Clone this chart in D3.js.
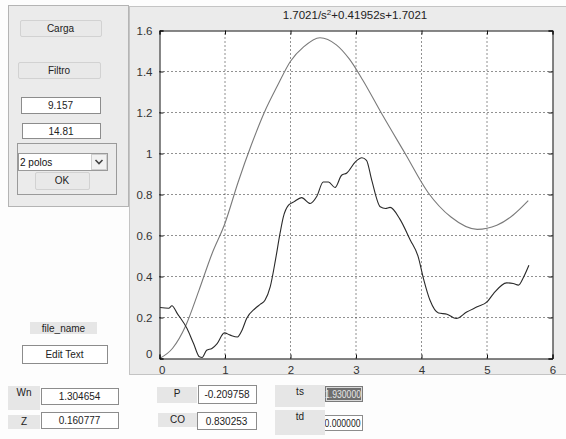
<!DOCTYPE html>
<html>
<head>
<meta charset="utf-8">
<script src="https://cdn.jsdelivr.net/npm/d3@7"></script>
<style>
  body { margin: 0; background: #fdfdfd; }
  svg text { font-family: "Liberation Sans", Arial, sans-serif; }
</style>
</head>
<body>
<div id="chart"></div>
<script>
// step response of the model (gray)
const modelT = [0, 0.2, 0.4, 0.6, 0.8, 1.0, 1.2, 1.4, 1.6, 1.8, 2.0, 2.2, 2.45, 2.7, 2.9, 3.1, 3.4, 3.75, 4.1, 4.45, 4.85, 5.15, 5.4, 5.63];
const modelY = [0, 0.05, 0.16, 0.33, 0.51, 0.66, 0.86, 1.04, 1.2, 1.33, 1.45, 1.52, 1.565, 1.53, 1.46, 1.36, 1.19, 1.0, 0.81, 0.69, 0.63, 0.65, 0.70, 0.77];

// measured (filtered) signal (black)
const dataT = [0.01, 0.14, 0.19, 0.27, 0.42, 0.52, 0.61, 0.65, 0.72, 0.8, 0.88, 0.99, 1.08, 1.19, 1.26, 1.33, 1.46, 1.54, 1.61, 1.69, 1.77, 1.84, 1.89, 1.97, 2.05, 2.17, 2.3, 2.4, 2.5, 2.58, 2.68, 2.78, 2.86, 2.99, 3.09, 3.16, 3.24, 3.37, 3.45, 3.52, 3.67, 3.83, 3.95, 4.03, 4.13, 4.26, 4.39, 4.53, 4.69, 4.85, 5.0, 5.1, 5.3, 5.4, 5.48, 5.56, 5.64];
const dataY = [0.249, 0.245, 0.257, 0.22, 0.146, 0.073, 0.008, 0.005, 0.04, 0.049, 0.073, 0.125, 0.114, 0.105, 0.138, 0.195, 0.244, 0.265, 0.284, 0.349, 0.48, 0.61, 0.69, 0.748, 0.764, 0.785, 0.756, 0.79, 0.861, 0.861, 0.834, 0.894, 0.905, 0.959, 0.979, 0.967, 0.87, 0.74, 0.732, 0.737, 0.68, 0.577, 0.496, 0.39, 0.284, 0.222, 0.216, 0.195, 0.227, 0.252, 0.276, 0.317, 0.369, 0.366, 0.358, 0.398, 0.455];

const xTicks = [0, 1, 2, 3, 4, 5, 6];
const yTicks = [0, 0.2, 0.4, 0.6, 0.8, 1, 1.2, 1.4, 1.6];

const W = 566, H = 439;
const svg = d3.select("#chart").append("svg")
    .attr("width", W).attr("height", H);

// background panels
svg.append("rect").attr("x", 129.5).attr("y", 6.5).attr("width", 440).attr("height", 368)
    .attr("fill", "#ebebeb").attr("stroke", "#c4c4c4");
svg.append("rect").attr("x", 8.5).attr("y", 5.5).attr("width", 120).attr("height", 201)
    .attr("fill", "#ebebeb").attr("stroke", "#b4b4b4");
svg.append("rect").attr("x", 17.5).attr("y", 143.5).attr("width", 99).attr("height", 51)
    .attr("fill", "none").attr("stroke", "#9a9a9a");

// axes
const x = d3.scaleLinear().domain([0, 6]).range([159.5, 552.5]);
const y = d3.scaleLinear().domain([0, 1.6]).range([358.5, 30.5]);

const plot = svg.append("g");
plot.append("rect").attr("x", x(0)).attr("y", y(1.6))
    .attr("width", x(6) - x(0)).attr("height", y(0) - y(1.6)).attr("fill", "#fff");

// grid
plot.selectAll(".gx").data(xTicks.slice(1, -1)).enter().append("line")
    .attr("x1", d => x(d)).attr("x2", d => x(d)).attr("y1", y(0)).attr("y2", y(1.6))
    .attr("stroke", "#222").attr("stroke-dasharray", "1,3");
plot.selectAll(".gy").data(yTicks.slice(1, -1)).enter().append("line")
    .attr("x1", x(0)).attr("x2", x(6)).attr("y1", d => y(d)).attr("y2", d => y(d))
    .attr("stroke", "#222").attr("stroke-dasharray", "1,3");

// curves
const line = d3.line().x(d => x(d[0])).y(d => y(d[1])).curve(d3.curveMonotoneX);
plot.append("path").datum(d3.zip(modelT, modelY)).attr("d", line)
    .attr("fill", "none").attr("stroke", "#7a7a7a").attr("stroke-width", 1.1);
plot.append("path").datum(d3.zip(dataT, dataY)).attr("d", line)
    .attr("fill", "none").attr("stroke", "#2a2a2a").attr("stroke-width", 1.1);

// axis lines & ticks (inward, MATLAB style)
const xAxis = d3.axisBottom(x).tickValues(xTicks).tickSize(-4).tickPadding(7)
    .tickFormat(d3.format("d"));
const yAxis = d3.axisLeft(y).tickValues(yTicks).tickSize(-4).tickPadding(7)
    .tickFormat(d => d === 0 ? "0" : d3.format("~g")(d));
const gx = plot.append("g").attr("transform", `translate(0,${y(0)})`).call(xAxis);
const gy = plot.append("g").attr("transform", `translate(${x(0)},0)`).call(yAxis);
const gy2 = plot.append("g").attr("transform", `translate(${x(6)},0)`)
    .call(d3.axisRight(y).tickValues(yTicks).tickSize(-4).tickFormat(""));
const gx2 = plot.append("g").attr("transform", `translate(0,${y(1.6)})`)
    .call(d3.axisTop(x).tickValues(xTicks).tickSize(-4).tickFormat(""));
[gx, gy, gx2, gy2].forEach(g => {
  g.select(".domain").attr("stroke", "#111");
  g.selectAll(".tick line").attr("stroke", "#111");
  g.selectAll("text").attr("font-size", 11.5).attr("fill", "#333")
      .attr("font-family", "'Liberation Sans', Arial, sans-serif");
});
gy.selectAll(".tick").filter(d => d === 0).select("text").attr("dy", "-0.1em");
gx.selectAll(".tick").filter(d => d === 0).select("text").attr("dx", "0.2em");

// title
const title = svg.append("text").attr("x", 355).attr("y", 19)
    .attr("text-anchor", "middle").attr("font-size", 11.5).attr("fill", "#222");
title.append("tspan").text("1.7021/s");
title.append("tspan").attr("dy", -4).attr("font-size", 8).text("2");
title.append("tspan").attr("dy", 4).text("+0.41952s+1.7021");

// GUI controls
const buttons = [
  {label: "Carga", x: 20, y: 20, w: 81, h: 16},
  {label: "Filtro", x: 18, y: 62, w: 82, h: 16},
  {label: "OK", x: 35, y: 172, w: 54, h: 17}
];
const edits = [
  {label: "9.157", x: 21, y: 97, w: 79, h: 16, anchor: "middle"},
  {label: "14.81", x: 22, y: 123, w: 78, h: 15, anchor: "middle"},
  {label: "Edit Text", x: 22, y: 345, w: 85, h: 18, anchor: "middle"},
  {label: "1.304654", x: 41, y: 388, w: 77, h: 16, anchor: "middle"},
  {label: "0.160777", x: 41, y: 412, w: 77, h: 16, anchor: "middle"},
  {label: "-0.209758", x: 198, y: 385, w: 58, h: 18, anchor: "middle"},
  {label: "0.830253", x: 197, y: 412, w: 59, h: 17, anchor: "middle"},
  {label: "0.000000", x: 323, y: 415, w: 39, h: 15, anchor: "start", fit: 36}
];
const labels = [
  {label: "file_name", x: 30, y: 322, w: 67, h: 12},
  {label: "Wn", x: 8, y: 386, w: 32, h: 24},
  {label: "Z", x: 8, y: 415, w: 32, h: 14},
  {label: "P", x: 157, y: 387, w: 40, h: 16},
  {label: "CO", x: 158, y: 413, w: 39, h: 14},
  {label: "ts", x: 275, y: 385, w: 50, h: 22},
  {label: "td", x: 275, y: 410, w: 50, h: 25}
];

const ui = svg.append("g").attr("font-size", 10);

buttons.forEach(b => {
  ui.append("rect").attr("x", b.x + 0.5).attr("y", b.y + 0.5).attr("width", b.w).attr("height", b.h)
      .attr("rx", 1.5).attr("fill", "#e9e9e9").attr("stroke", "#d2d2d2");
  ui.append("text").attr("x", b.x + b.w / 2).attr("y", b.y + b.h / 2 + 3.5)
      .attr("text-anchor", "middle").attr("font-size", 10).attr("fill", "#222").text(b.label);
});

edits.forEach(e => {
  ui.append("rect").attr("x", e.x + 0.5).attr("y", e.y + 0.5).attr("width", e.w).attr("height", e.h)
      .attr("fill", "#fff").attr("stroke", "#8c8c8c");
  const t = ui.append("text").attr("x", e.anchor === "start" ? e.x + 1.5 : e.x + e.w / 2)
      .attr("y", e.y + e.h / 2 + 4).attr("text-anchor", e.anchor)
      .attr("font-size", 10).attr("fill", "#222").text(e.label);
  if (e.fit) t.attr("textLength", e.fit).attr("lengthAdjust", "spacingAndGlyphs");
});

labels.forEach(l => {
  ui.append("rect").attr("x", l.x).attr("y", l.y).attr("width", l.w).attr("height", l.h)
      .attr("fill", "#e6e6e6");
  ui.append("text").attr("x", l.x + l.w / 2).attr("y", l.y + 10)
      .attr("text-anchor", "middle").attr("font-size", 10).attr("fill", "#222").text(l.label);
});

// selected ts field
ui.append("rect").attr("x", 325.5).attr("y", 386.5).attr("width", 37).attr("height", 15)
    .attr("fill", "#d8d8d8").attr("stroke", "#7a7a7a");
ui.append("rect").attr("x", 327).attr("y", 388).attr("width", 34).attr("height", 12)
    .attr("fill", "#6e6e6e");
ui.append("text").attr("x", 325).attr("y", 398)
    .attr("textLength", 36).attr("lengthAdjust", "spacingAndGlyphs")
    .attr("font-size", 10).attr("fill", "#e8e8e8").text("1.930000");

// dropdown
ui.append("rect").attr("x", 18.5).attr("y", 153.5).attr("width", 89).attr("height", 17)
    .attr("fill", "#fff").attr("stroke", "#9a9a9a");
ui.append("rect").attr("x", 91.5).attr("y", 154.5).attr("width", 15).attr("height", 15)
    .attr("fill", "#f2f2f2").attr("stroke", "#d0d0d0");
ui.append("path").attr("d", "M95.5,160 L99,163.5 L102.5,160")
    .attr("fill", "none").attr("stroke", "#444").attr("stroke-width", 1.6);
ui.append("text").attr("x", 20).attr("y", 166).attr("font-size", 10).attr("fill", "#111").text("2 polos");
</script>
</body>
</html>
